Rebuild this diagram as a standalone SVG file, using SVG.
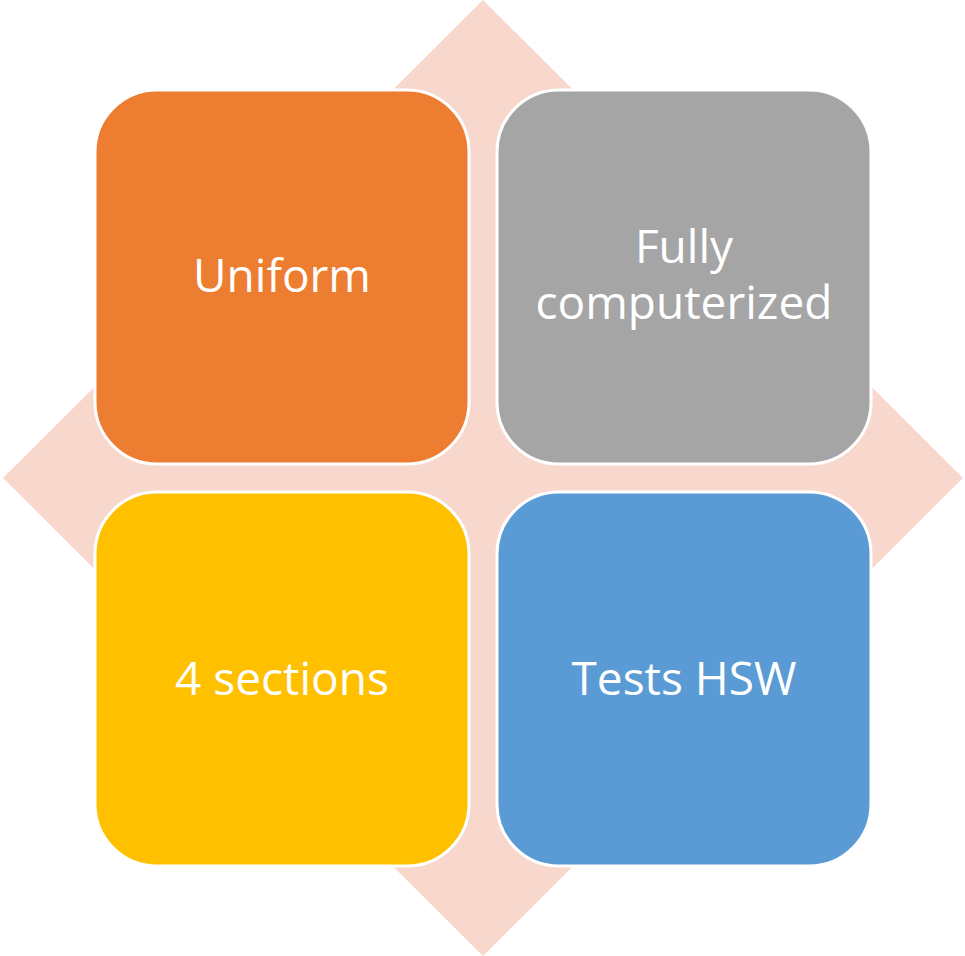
<svg xmlns="http://www.w3.org/2000/svg" width="965" height="956" viewBox="0 0 965 956">
<style>
.box{stroke:#fff;stroke-width:3}
.t{font-family:"Open Sans",sans-serif;font-size:46px;fill:#fff;text-anchor:middle}
</style>
<rect width="965" height="956" fill="#fff"/>
<g id="diamond"><polygon points="483,0 963,478 483,956 3,478" fill="#f8d7cc"/></g>
<g id="uniform"><rect class="box" x="95" y="90" width="374" height="374" rx="62" fill="#ed7d31"/><text class="t" x="282" y="292">Uniform</text></g>
<g id="computerized"><rect class="box" x="497" y="90" width="374" height="374" rx="62" fill="#a5a5a5"/><text class="t" x="684" y="263">Fully</text><text class="t" x="684" y="319">computerized</text></g>
<g id="sections"><rect class="box" x="95" y="492" width="374" height="374" rx="62" fill="#ffc000"/><text class="t" x="282" y="695">4 sections</text></g>
<g id="hsw"><rect class="box" x="497" y="492" width="374" height="374" rx="62" fill="#5b9bd5"/><text class="t" x="684" y="695">Tests HSW</text></g>
<g id="connectors"/>
</svg>
